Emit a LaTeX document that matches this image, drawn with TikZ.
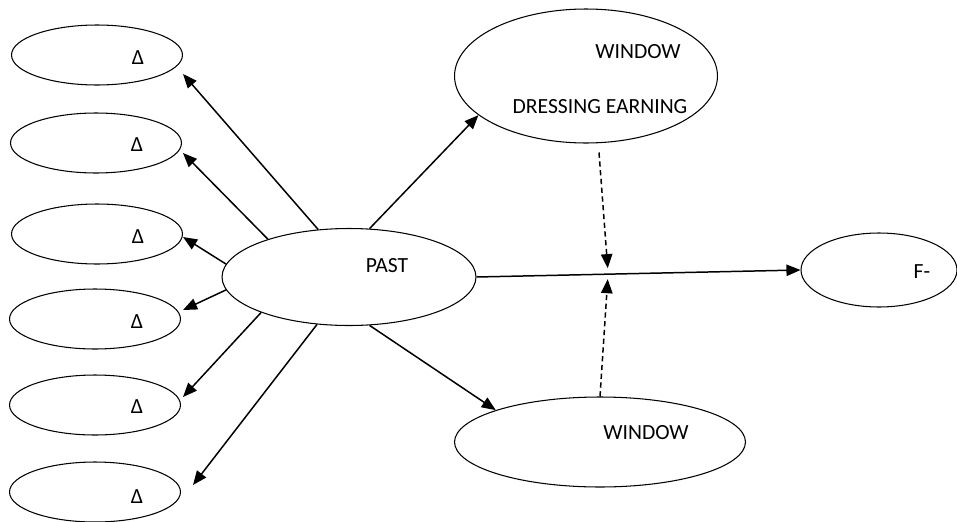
\documentclass[tikz,border=0pt]{standalone}
\usepackage{fontspec}
\setmainfont{Carlito}
\usetikzlibrary{shapes.geometric,arrows.meta,calc}

\tikzset{
  blob/.style={draw, ellipse, line width=.6pt, inner sep=0pt},
  small/.style={blob, minimum width=3.42cm, minimum height=1.2cm},
  link/.style={->, line width=.85pt},
  moder/.style={->, line width=.85pt, dash pattern=on 3pt off 2pt},
}

\begin{document}
\begin{tikzpicture}[x=0.02cm, y=-0.02cm, >={Triangle[length=8pt,width=6.5pt]}, font=\fontsize{12.3}{14}\selectfont]
    \useasboundingbox (0,0) rectangle (957,521);
    % left column
    \node[small] (l1) at (97,55) {};
    \node[small] (l2) at (96,143) {};
    \node[small] (l3) at (97,234) {};
    \node[small] (l4) at (95,319) {};
    \node[small] (l5) at (95,405) {};
    \node[small] (l6) at (95,492) {};
    \node (d1) at (138,58) {Δ};
    \node (d2) at (137,145) {Δ};
    \node (d3) at (138,237) {Δ};
    \node (d4) at (137,322) {Δ};
    \node (d5) at (137,407) {Δ};
    \node (d6) at (137,497) {Δ};
    % middle and right
    \node[blob, minimum width=5.08cm, minimum height=1.94cm] (past) at (349,277) {};
    \node (pastlbl) at (387,266) {PAST};
    \node[blob, minimum width=5.26cm, minimum height=2.68cm] (wde) at (586,76) {};
    \node (wdelbl1) at (638,52) {WINDOW};
    \node (wdelbl2) at (600,107) {DRESSING EARNING};
    \node[blob, minimum width=5.82cm, minimum height=1.8cm] (win) at (600,442) {};
    \node (winlbl) at (646,433) {WINDOW};
    \node[blob, minimum width=3.12cm, minimum height=1.48cm] (fm) at (879,270) {};
    \node (fmlbl) at (922,272) {F-};

    \draw[link] (past.123) -- ($(l1.east)+(0,19)$);
    \draw[link] (past.155) -- ($(l2.east)+(1,10)$);
    \draw[link] (past.174) -- ($(l3.east)+(0,3)$);
    \draw[link] (past.186) -- ($(l4.east)+(2,-9)$);
    \draw[link] (past.202) -- ($(l5.east)+(2,-8)$);
    \draw[link] (past.236) -- ($(l6.east)+(12,-7)$);

    \draw[link] (past.67) -- (wde.200);
    \draw[link] (past.-67) -- (win.163);
    \draw[link] (past.east) -- coordinate[pos=.405] (j) (fm.west);

    \draw[moder] ($(wde.south)+(13,9)$) -- ($(j)+(0,-6)$);
    \draw[moder] (win.north) -- ($(j)+(0,5)$);
\end{tikzpicture}
\end{document}
